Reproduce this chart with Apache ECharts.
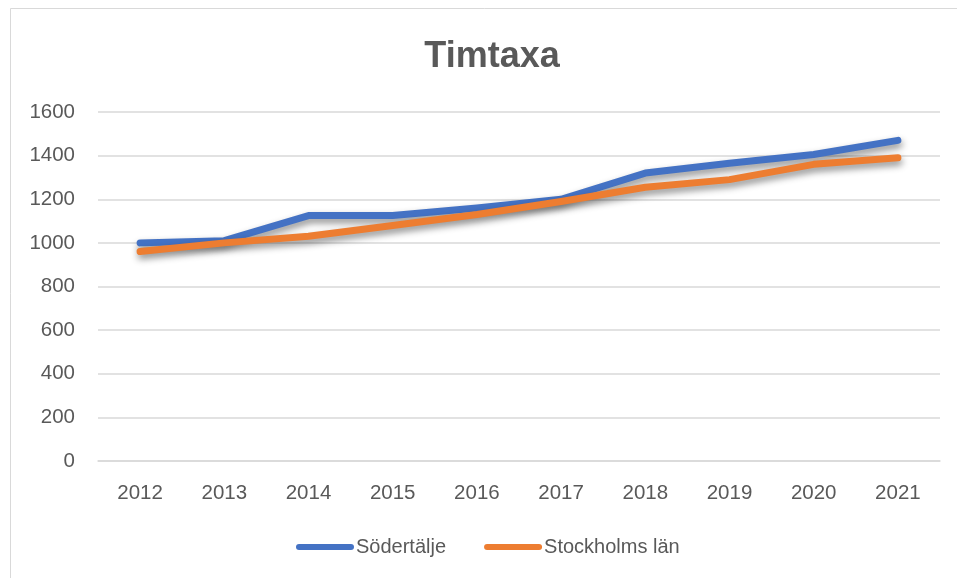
<!DOCTYPE html>
<html>
<head>
<meta charset="utf-8">
<script src="https://cdn.jsdelivr.net/npm/echarts@6/dist/echarts.min.js"></script>
<style>
html,body{margin:0;padding:0;background:#fff;}
#chart{width:957px;height:578px;}
</style>
</head>
<body>
<div id="chart"></div>
<script>
const titleText = 'Timtaxa';
const years = ['2012','2013','2014','2015','2016','2017','2018','2019','2020','2021'];
const sodertalje = [1000, 1010, 1125, 1125, 1160, 1200, 1320, 1365, 1405, 1470];
const stockholmsLan = [960, 1000, 1030, 1080, 1130, 1190, 1255, 1290, 1360, 1390];
const seriesNames = ['Södertälje', 'Stockholms län'];

const FONT = '"Liberation Sans", Arial, sans-serif';
const TXT = '#595959';
const GRID = '#d9d9d9';
const legendIcon = 'path://M3,0 L55,0 A3,3 0 0 1 55,6 L3,6 A3,3 0 0 1 3,0 Z';

const chart = echarts.init(document.getElementById('chart'), null, {renderer: 'canvas'});

function lineSeries(name, data, color) {
  return {
    name: name,
    type: 'line',
    data: data,
    showSymbol: false,
    symbol: 'none',
    lineStyle: {
      color: color,
      width: 7,
      cap: 'round',
      join: 'round',
      shadowColor: 'rgba(0,0,0,0.45)',
      shadowBlur: 7,
      shadowOffsetX: 1,
      shadowOffsetY: 4
    },
    itemStyle: {color: color},
    emphasis: {disabled: true}
  };
}

chart.setOption({
  animation: false,
  backgroundColor: '#ffffff',
  title: {
    text: titleText,
    left: 487,
    textAlign: 'center',
    top: 34,
    textStyle: {fontFamily: FONT, fontSize: 36, fontWeight: 'bold', color: TXT}
  },
  legend: {
    left: 291,
    top: 532,
    itemWidth: 58,
    itemHeight: 6,
    itemGap: 38,
    icon: legendIcon,
    textStyle: {fontFamily: FONT, fontSize: 20, color: TXT, padding: [0,0,0,-3]},
    data: seriesNames
  },
  graphic: [{
    type: 'rect',
    shape: {x: 10.5, y: 8.5, width: 980, height: 620},
    style: {fill: 'none', stroke: GRID, lineWidth: 1},
    silent: true,
    z: -1
  }],
  grid: {left: 98, right: 17, top: 112, bottom: 117, containLabel: false},
  xAxis: {
    type: 'category',
    data: years,
    boundaryGap: true,
    axisLine: {show: true, lineStyle: {color: GRID, width: 1.5}},
    axisTick: {show: false},
    axisLabel: {fontFamily: FONT, fontSize: 20.5, color: TXT, margin: 22}
  },
  yAxis: {
    type: 'value',
    min: 0,
    max: 1600,
    interval: 200,
    axisLine: {show: false},
    axisTick: {show: false},
    splitLine: {show: true, lineStyle: {color: GRID, width: 1.5}},
    axisLabel: {fontFamily: FONT, fontSize: 20.5, color: TXT, margin: 23,
      formatter: function (v) { return String(v); }}
  },
  series: [
    lineSeries(seriesNames[0], sodertalje, '#4472C4'),
    lineSeries(seriesNames[1], stockholmsLan, '#ED7D31')
  ]
});
</script>
</body>
</html>
